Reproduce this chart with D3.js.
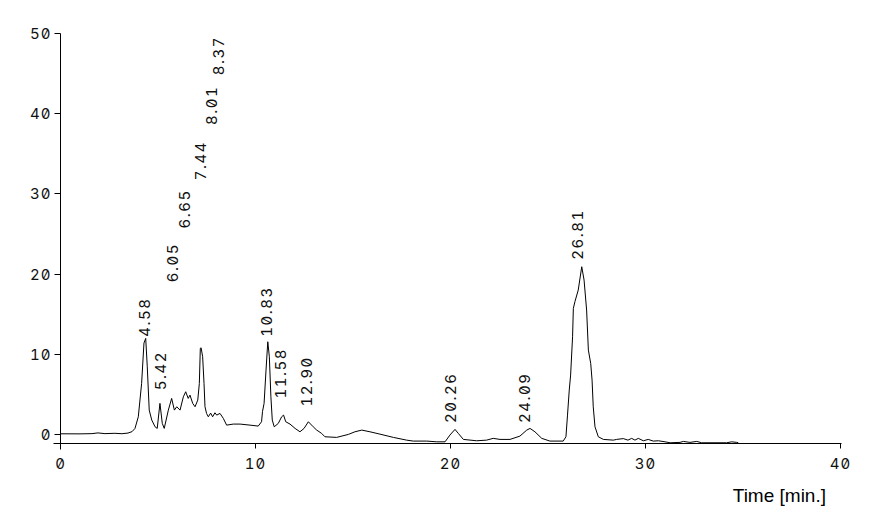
<!DOCTYPE html>
<html><head><meta charset="utf-8">
<script src="https://cdn.jsdelivr.net/npm/d3@7"></script>
<style>body{margin:0;background:#fff}svg{display:block}
.num{font-feature-settings:"tnum" 1,"zero" 1;font-variant-numeric:tabular-nums slashed-zero}</style>
</head><body>
<svg id="chart" width="889" height="525"></svg>
<script>
// ---- data ----
const timeMin = [0,1.0,1.61,1.92,2.28,2.79,3.15,3.46,3.67,3.82,3.99,4.16,4.28,4.37,4.45,4.55,4.68,4.85,4.96,5.10,5.22,5.32,5.53,5.70,5.84,5.96,6.13,6.30,6.42,6.55,6.64,6.78,6.90,7.04,7.12,7.17,7.21,7.29,7.36,7.41,7.49,7.58,7.70,7.80,7.92,8.01,8.18,8.35,8.52,8.86,9.21,9.72,10.14,10.31,10.36,10.44,10.54,10.63,10.71,10.79,10.86,10.96,11.17,11.34,11.44,11.55,11.77,12.03,12.28,12.49,12.71,12.96,13.14,13.39,13.56,14.16,14.76,15.10,15.45,15.87,16.38,17.07,17.75,18.09,18.78,19.29,19.72,19.97,20.23,20.40,20.66,21.34,21.85,22.19,22.54,23.05,23.56,23.91,24.08,24.33,24.68,25.10,25.78,25.92,26.00,26.09,26.16,26.26,26.30,26.38,26.55,26.73,26.85,26.98,27.07,27.19,27.26,27.32,27.41,27.58,27.84,28.35,28.52,28.86,29.10,29.29,29.46,29.63,29.89,30.14,30.40,30.66,31.00,31.26,31.77,31.94,32.28,32.63,32.88,34.16,34.42,34.68,34.76];
const signal  = [0.11,0.10,0.13,0.22,0.13,0.17,0.12,0.20,0.38,0.78,2.23,6.39,11.42,12.0,8.46,3.06,1.82,0.98,0.78,3.9,1.41,0.78,3.06,4.52,3.06,3.48,3.06,4.72,5.35,4.52,4.93,3.9,3.48,4.31,6.39,10.76,10.83,9.71,6.39,3.48,2.65,2.23,2.69,2.23,2.73,2.44,2.65,2.03,1.19,1.32,1.32,1.19,1.07,1.61,2.9,3.9,8.05,11.58,9.71,4.72,1.82,0.98,1.41,2.23,2.44,1.61,1.32,0.78,0.36,0.78,1.61,0.98,0.57,0.16,-0.26,-0.34,0.03,0.36,0.57,0.36,0.07,-0.34,-0.68,-0.80,-0.80,-0.89,-0.89,-0.05,0.66,0.16,-0.59,-0.76,-0.68,-0.46,-0.59,-0.59,-0.18,0.57,0.78,0.36,-0.46,-0.80,-0.80,-0.26,2.44,5.56,7.43,12.2,15.74,16.57,18.02,20.93,19.27,15.53,10.54,8.88,6.8,3.48,0.98,-0.26,-0.59,-0.68,-0.59,-0.49,-0.68,-0.46,-0.68,-0.46,-0.76,-0.59,-0.80,-0.76,-0.89,-1.01,-0.96,-0.84,-0.96,-0.84,-1.01,-1.01,-0.89,-0.96,-1.01];

const peakTimes  = [4.58,5.42,6.05,6.65,7.44,8.01,8.37,10.83,11.58,12.90,20.26,24.09,26.81];
const peakLabels = ["4.58","5.42","6.05","6.65","7.44","8.01","8.37","10.83","11.58","12.90","20.26","24.09","26.81"];
const labelLevel = [12.2,5.55,19.0,25.7,31.7,38.6,44.8,12.2,4.5,3.5,1.45,1.45,21.8];

const xTicks = [0,10,20,30,40];
const yTicks = [0,10,20,30,40,50];
const xTitle = "Time [min.]";

// ---- drawing ----
const svg = d3.select("#chart");
const x = d3.scaleLinear().domain([0,40]).range([60.5,840.5]);
const y = d3.scaleLinear().domain([-1.1,50]).range([443.5,33.5]);
const numFont = "Inter, 'DejaVu Sans Mono', monospace";
const axisY = y.range()[0];
const crisp = v => Math.round(v - 0.5) + 0.5;

const g = svg.append("g");

// axis lines
g.append("line").attr("x1", x(0)).attr("x2", x(0))
  .attr("y1", crisp(y(50))).attr("y2", axisY + 6)
  .attr("stroke","#000").attr("stroke-width",1);
g.append("line").attr("x1", x(0) - 7).attr("x2", x(40) + 1)
  .attr("y1", axisY).attr("y2", axisY)
  .attr("stroke","#000").attr("stroke-width",1);

// y ticks
g.selectAll(".yt").data(yTicks).join("line")
  .attr("x1", x(0) - 6).attr("x2", x(0))
  .attr("y1", d => crisp(y(d))).attr("y2", d => crisp(y(d)))
  .attr("stroke","#000");
g.selectAll(".yl").data(yTicks).join("text")
  .attr("class","num")
  .attr("x", x(0) - 9).attr("y", d => y(d))
  .attr("dy","0.36em").attr("text-anchor","end")
  .attr("font-family", numFont).attr("font-size", 15).attr("letter-spacing", 1)
  .attr("fill","#111").text(d => d);

// x ticks
g.selectAll(".xt").data(xTicks).join("line")
  .attr("x1", d => crisp(x(d))).attr("x2", d => crisp(x(d)))
  .attr("y1", axisY).attr("y2", axisY + 5)
  .attr("stroke","#000");
g.selectAll(".xl").data(xTicks).join("text")
  .attr("class","num")
  .attr("x", d => x(d)).attr("y", axisY + 20)
  .attr("dy","0.36em").attr("text-anchor","middle")
  .attr("font-family", numFont).attr("font-size", 15).attr("letter-spacing", 1)
  .attr("fill","#111").text(d => d);

g.append("text").attr("x", 826).attr("y", 502)
  .attr("text-anchor","end")
  .attr("font-family","'Liberation Sans', Arial, sans-serif").attr("font-size",19)
  .attr("fill","#000").text(xTitle);

// trace
const pts = timeMin.map((t,i) => ({t, v: signal[i]}));
g.append("path").datum(pts)
  .attr("fill","none").attr("stroke","#000").attr("stroke-width",1)
  .attr("stroke-linejoin","round")
  .attr("d", d3.line().x(d => x(d.t)).y(d => y(d.v)));

// peak labels
g.selectAll(".pl").data(peakTimes).join("text")
  .attr("class","num")
  .attr("transform", (d,i) => `translate(${x(d)},${y(labelLevel[i])}) rotate(-90)`)
  .attr("font-family", numFont).attr("font-size", 15)
  .attr("letter-spacing", 1.5)
  .attr("fill","#111")
  .text((d,i) => peakLabels[i]);
</script>
</body></html>
